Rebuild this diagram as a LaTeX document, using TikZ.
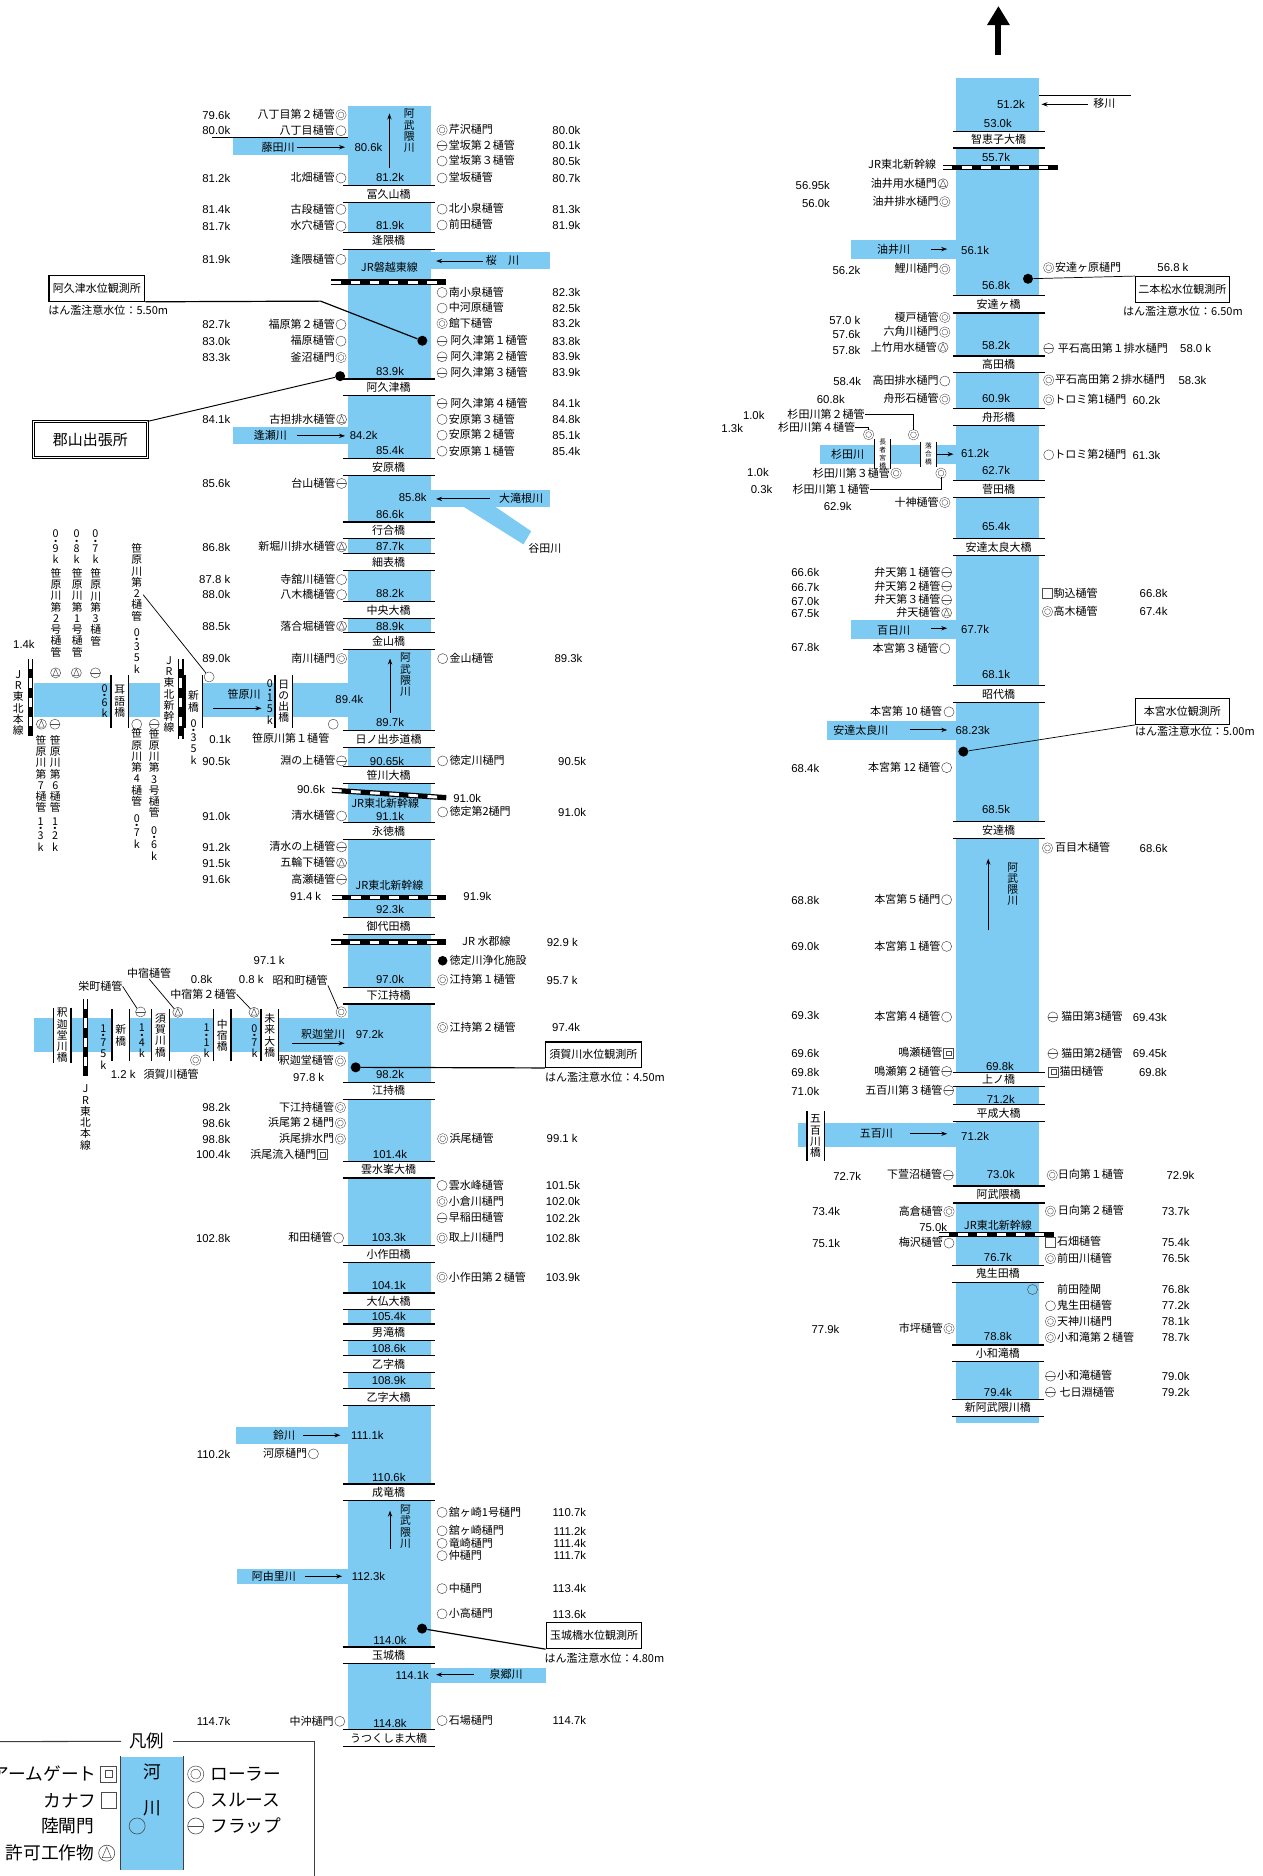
\documentclass[tikz,border=0pt]{standalone}
\usepackage{fontspec}
\setmainfont{Noto Sans CJK JP}
\newfontfamily\kmfont{Liberation Sans}
\usetikzlibrary{arrows.meta,calc}
\definecolor{rivercol}{RGB}{125,203,243}
\newcommand{\namefont}{\fontsize{9.2}{11}\selectfont}
\newcommand{\vertfont}{\fontsize{9}{9.4}\selectfont\lineskiplimit=-20pt}
\newcommand{\tinyfont}{\fontsize{5.6}{6.6}\selectfont\lineskiplimit=-20pt}
\newcommand{\kdot}{\\[-3.4pt]・\\[-3.4pt]}
\tikzset{
  river/.style={fill=rivercol},
  gatebase/.style={circle,draw=black!70,line width=.4pt,minimum size=8.4pt,inner sep=0pt},
  suru/.style={gatebase},
  roller/.style={gatebase,double=white,double distance=1.3pt,minimum size=6.8pt},
  flap/.style={gatebase,path picture={\draw[black!70,line width=.4pt] (path picture bounding box.west) -- (path picture bounding box.east);}},
  kyoka/.style={gatebase,path picture={\draw[black!70,line width=.4pt] ($(path picture bounding box.north)!.12!(path picture bounding box.south)$) -- ($(path picture bounding box.south west)!.22!(path picture bounding box.north east)$) -- ($(path picture bounding box.south east)!.22!(path picture bounding box.north west)$) -- cycle;}},
  kanafu/.style={gatebase,rectangle},
  armgate/.style={gatebase,rectangle,path picture={\draw[black!70,line width=.4pt] ($(path picture bounding box.south west)!.27!(path picture bounding box.north east)$) rectangle ($(path picture bounding box.south west)!.73!(path picture bounding box.north east)$);}},
  lbl/.style={inner sep=0pt,font=\namefont,text height=7.4pt,text depth=1pt},
  kmlbl/.style={inner sep=0pt,font=\kmfont\fontsize{9.5}{11}\selectfont,text height=7pt,text depth=0pt},
  vert/.style={inner sep=0pt,align=center,font=\vertfont},
  bridge/.style={fill=white,inner sep=0pt,minimum width=76.6pt,font=\namefont},
  vbridge/.style={fill=white,inner sep=0pt,align=center,font=\vertfont},
  bline/.style={line width=1pt},
  railbed/.style={line width=4.4pt,black},
  railtie/.style={line width=2.4pt,white,dash pattern=on 8pt off 8pt},
  flow/.style={-{Stealth[length=5pt,width=3.6pt]},line width=.8pt},
  lead/.style={line width=.6pt},
  obsbox/.style={draw,line width=1pt,inner sep=0pt,font=\namefont},
  gauge/.style={line width=1pt},
  dot/.style={circle,fill=black,inner sep=0pt,minimum size=8.4pt},
  legendtxt/.style={inner sep=0pt,font=\fontsize{14.8}{17}\selectfont}
}
\begin{document}
\begin{tikzpicture}[x=1pt,y=-1pt,>=Stealth]
    \useasboundingbox (0,0) rectangle (1055.6,1568);

    \foreach \xa/\ya/\xb/\yb in {291.2/88.6/360.1/1446, 799.3/65.2/868.7/1189.6,
        194.9/115.7/291.2/129.6, 195/357/291.2/371.2, 360.1/211/460/224.9, 360.1/409.7/460/424,
        28.3/571/133.6/599.2, 151/571/291.2/599.2, 28.4/851.1/291.2/879.6,
        197.3/1192.3/291.2/1206.5, 198.3/1311/291.2/1323.6, 360.1/1393.8/456.5/1406.4,
        711.1/200.7/799.3/216.5, 685.2/372.1/799.3/388, 711.1/518.4/799.3/534.3,
        691/602.9/799.3/618.8, 666.6/938.2/799.3/959}
        \fill[river] (\xa,\ya) rectangle (\xb,\yb);
    \fill[river] (387.5,423.6) -- (414,423.6) -- (444,444) -- (437.5,455) -- cycle;

    \foreach \x/\yt/\yb/\txt [count=\i] in {
        324.9/155.3/168.9/冨久山橋, 324.9/194.3/208.2/逢隈橋, 324.9/316.9/330.5/阿久津橋,
        324.9/383.5/397.2/安原橋, 324.9/436.5/450/行合橋, 324.9/462.7/476.6/細表橋,
        324.9/503/516.8/中央大橋, 324.9/529/542.6/金山橋, 324.9/611/624.6/日ノ出歩道橋,
        324.9/640.8/654.7/笹川大橋, 324.9/687.9/701.5/永徳橋, 324.9/767/780.7/御代田橋,
        324.9/825.3/838.9/下江持橋, 324.9/904.7/918.6/江持橋, 324.9/970.7/984.4/雲水峯大橋,
        324.9/1041.3/1055/小作田橋, 324.9/1080.9/1094.5/大仏大橋, 324.9/1106.8/1120.1/男滝橋,
        324.9/1133/1146.9/乙字橋, 324.9/1160.8/1174.8/乙字大橋, 324.9/1240.5/1254.2/成竜橋,
        324.9/1376.8/1390.5/玉城橋, 324.9/1445.9/1459.8/うつくしま大橋,
        834.7/109.8/123.5/智恵子大橋, 834.7/247.5/261.4/安達ヶ橋, 834.7/297.7/311.3/高田橋,
        834.7/341.4/355.4/舟形橋, 834.7/401.6/415.6/菅田橋, 834.7/450.1/464/安達太良大橋,
        834.7/573/587/昭代橋, 834.7/687/700.7/安達橋, 834.7/896.6/907.8/上ノ橋,
        834.7/923.4/937/平成大橋, 834.7/991.4/1005.3/阿武隈橋, 834/1057.7/1071.4/鬼生田橋,
        834/1124.3/1138/小和滝橋, 834/1169.7/1183.4/新阿武隈川橋} {
        \pgfmathsetmacro\ym{(\yt+\yb)/2}
        \pgfmathsetmacro\hh{\yb-\yt}
        \node[bridge,minimum height=\hh pt] (b\i) at (\x,\ym) {\txt};
        \draw[bline] (b\i.north west) -- (b\i.north east);
        \draw[bline] (b\i.south west) -- (b\i.south east);
    }

    \foreach \x/\vw/\yt/\yb/\txt [count=\i] in {
        100.1/14.3/564.4/608/耳\\語\\橋, 161.8/13.9/564.4/608/新\\橋, 237.1/14.2/564.4/608/日\\の\\出\\橋,
        52.1/14.2/843.9/886.8/釈\\迦\\堂\\川\\橋, 100.9/14.2/843.9/886.8/新\\橋, 134.1/14.2/843.9/886.8/須\\賀\\川\\橋,
        185.8/14.2/843.9/886.8/中\\宿\\橋, 225.4/14.2/843.9/886.8/未\\来\\大\\橋,
        681.7/13.9/928.7/970.5/五\\百\\川\\橋} {
        \pgfmathsetmacro\ym{(\yt+\yb)/2}
        \pgfmathsetmacro\hh{\yb-\yt}
        \node[vbridge,minimum width=\vw pt,minimum height=\hh pt] (vb\i) at (\x,\ym) {\txt};
        \draw[bline] (vb\i.north west) -- (vb\i.south west);
        \draw[bline] (vb\i.north east) -- (vb\i.south east);
    }
    \foreach \x/\txt [count=\i] in {737.7/長\\者\\宮\\橋, 776.1/落\\合\\橋} {
        \node[vbridge,font=\tinyfont,minimum width=12.5pt,minimum height=20.6pt] (sb\i) at (\x,379.6) {\txt};
        \draw[bline] (sb\i.north west) -- (sb\i.south west);
        \draw[bline] (sb\i.north east) -- (sb\i.south east);
    }

    \foreach \xa/\ya/\xb/\yb [count=\i] in {277/235.8/372.5/235.8, 277.5/660.5/373/666.7, 277.5/750.3/373/750.3,
        276.9/787.4/373/787.4, 788/140.2/884/140.2, 785/1032/881/1032,
        25.3/551/25.3/615.4, 151.2/551/151.2/618, 71.5/835.2/71.5/899.6} {
        \coordinate (ra\i) at (\xa,\ya);
        \coordinate (rb\i) at (\xb,\yb);
        \draw[railbed] (ra\i) -- (rb\i);
        \draw[railtie] (ra\i) -- (rb\i);
    }

    \foreach \sx/\y/\km/\txt/\kind [count=\i] in {
        285/96/79.6k/八丁目第２樋管/roller, 285/109.3/80.0k/八丁目樋管/suru, 285/148.8/81.2k/北畑樋管/suru,
        285/175/81.4k/古段樋管/suru, 285/189/81.7k/水穴樋管/suru, 285/216.8/81.9k/逢隈樋管/suru,
        285/271.2/82.7k/福原第２樋管/suru, 285/285.1/83.0k/福原樋管/suru, 285/298.8/83.3k/釜沼樋門/roller,
        285.5/350.6/84.1k/古担排水樋管/kyoka, 285.5/404.1/85.6k/台山樋管/flap,
        285.5/457.1/86.8k/新堀川排水樋管/kyoka, 285.5/484.4/87.8 k/寺舘川樋管/suru, 285.5/497/88.0k/八木橋樋管/suru,
        285.5/523.4/88.5k/落合堀樋管/kyoka, 285.5/550.5/89.0k/南川樋門/roller, 285.5/636/90.5k/淵の上樋管/flap,
        285.5/682/91.0k/清水樋管/suru, 285.5/707.9/91.2k/清水の上樋管/flap, 285.5/721.3/91.5k/五輪下樋管/kyoka,
        285.5/735/91.6k/高瀬樋管/flap, 284.5/925.6/98.2k/下江持樋管/roller, 284.5/938.7/98.6k/浜尾第２樋門/roller,
        284.5/952/98.8k/浜尾排水門/roller, 269.6/964.9/100.4k/浜尾流入樋門/armgate, 283/1034.8/102.8k/和田樋管/suru,
        262/1215.2/110.2k/河原樋門/suru, 284/1438.7/114.7k/中沖樋門/suru} {
        \node[\kind] (lg\i) at (\sx,\y) {};
        \node[lbl,anchor=east] (ln\i) at ($(lg\i.center)+(-5pt,0pt)$) {\txt};
        \node[kmlbl,anchor=east] (lk\i) at (192.6,\y) {\km};
    }

    \foreach \sx/\y/\kx/\ky/\km/\txt/\kind [count=\i] in {
        788.2/153.6/693.8/155/56.95k/油井用水樋門/kyoka, 789.7/168.6/693.8/170.3/56.0k/油井排水樋門/roller,
        789.7/224.9/719.3/226/56.2k/鯉川樋門/roller, 789.7/265.3/719.3/267.5/57.0 k/榎戸樋管/roller,
        789.7/277.6/719.3/279.5/57.6k/六角川樋門/roller, 788.2/290.4/719.3/292.6/57.8k/上竹用水樋管/kyoka,
        789.7/318.5/719.9/318.5/58.4k/高田排水樋門/suru, 789.7/333.6/706.2/333.6/60.8k/舟形石樋管/roller,
        789.7/420/712/423.6/62.9k/十神樋管/roller, 749/395.5/642.7/395/1.0k/杉田川第３樋管/roller,
        791.2/478.3/684.9/478.3/66.6k/弁天第１樋管/flap, 791.2/490/684.9/490.8/66.7k/弁天第２樋管/flap,
        791.2/501.4/684.9/502.2/67.0k/弁天第３樋管/flap, 791.2/512.3/684.9/512.8/67.5k/弁天樋管/kyoka,
        789.7/542.1/684.9/540.7/67.8k/本宮第３樋管/suru, 791.2/641.6/684.9/642.2/68.4k/本宮第 12 樋管/suru,
        791.2/752/684.9/752.8/68.8k/本宮第５樋門/suru, 791.2/791/684.9/791/69.0k/本宮第１樋管/suru,
        791.2/850/684.9/849/69.3k/本宮第４樋管/suru, 792.9/880.2/684.9/880.7/69.6k/鳴瀬樋管/armgate,
        791.2/895.5/684.9/896/69.8k/鳴瀬第２樋管/flap, 792.9/911.4/684.9/912.2/71.0k/五百川第３樋管/flap,
        792.6/982.2/719.9/983.3/72.7k/下萱沼樋管/flap, 793.2/1012.6/702.4/1012.6/73.4k/高倉樋管/roller,
        793.2/1039/702.4/1039.3/75.1k/梅沢樋管/suru, 793.2/1110.4/701.8/1110.7/77.9k/市坪樋管/roller} {
        \node[\kind] (mg\i) at (\sx,\y) {};
        \node[lbl,anchor=east] (mn\i) at ($(mg\i.center)+(-5pt,0pt)$) {\txt};
        \node[kmlbl,anchor=east] (mk\i) at (\kx,\ky) {\km};
    }

    \foreach \sx/\y/\tx/\txt/\kind/\kx/\km [count=\i] in {
        369.5/108.7/375/芹沢樋門/roller/485.2/80.0k, 369.5/121.8/375/堂坂第２樋管/flap/485.2/80.1k,
        369.5/134.6/375/堂坂第３樋管/suru/485.2/80.5k, 369.5/148.8/375/堂坂樋管/suru/485.2/80.7k,
        369.5/174.8/375/北小泉樋管/suru/485.2/81.3k, 369.5/188.1/375/前田樋管/suru/485.2/81.9k,
        369.5/244.4/375/南小泉樋管/suru/485.2/82.3k, 369.5/257.5/375/中河原樋管/suru/485.2/82.5k,
        369.5/270.4/375/館下樋管/roller/485.2/83.2k, 369.5/285.1/376.5/阿久津第１樋管/flap/485.2/83.8k,
        369.5/298.2/376.5/阿久津第２樋管/flap/485.2/83.9k, 369.5/311.6/376.5/阿久津第３樋管/flap/485.2/83.9k,
        369.5/337.2/376.5/阿久津第４樋管/flap/485.2/84.1k, 369.5/350.6/375/安原第３樋管/suru/485.2/84.8k,
        369.5/363.7/375/安原第２樋管/suru/485.2/85.1k, 369.5/377.1/375/安原第１樋管/suru/485.2/85.4k,
        370/550.5/375.5/金山樋管/suru/487/89.3k, 370/636/375.5/徳定川樋門/suru/490/90.5k,
        370/678.7/375.5/徳定第2樋門/suru/490/91.0k, 370/819/375.5/江持第１樋管/roller/483/95.7 k,
        370/858.7/375.5/江持第２樋管/roller/485/97.4k, 370/951.8/375.5/浜尾樋管/roller/483/99.1 k,
        369.5/990.8/375/雲水峰樋管/suru/485/101.5k, 369.5/1004.2/375/小倉川樋門/roller/485/102.0k,
        369.5/1017.9/375/早稲田樋管/flap/485/102.2k, 369.5/1034.8/375/取上川樋門/roller/485/102.8k,
        369.5/1067.5/375/小作田第２樋管/roller/485/103.9k, 369.5/1264/375/舘ヶ崎1号樋門/suru/490/110.7k,
        369.5/1279.5/375/舘ヶ崎樋門/suru/490/111.2k, 369.5/1289.9/375/竜崎樋門/suru/490/111.4k,
        369.5/1300.2/375/仲樋門/suru/490/111.7k, 369.5/1327.8/375/中樋門/suru/490/113.4k,
        369.5/1348.9/375/小高樋門/suru/490/113.6k, 369.5/1438.1/375/石場樋門/suru/490/114.7k,
        876.5/223.8/881.7/安達ヶ原樋門/roller/993.5/56.8 k, 876.5/291.2/884/平石高田第１排水樋門/flap/1012.5/58.0 k,
        876.5/317.7/881.7/平石高田第２排水樋門/roller/1008.5/58.3k, 876.5/334.2/881/トロミ第1樋門/roller/970/60.2k,
        876.5/380.2/881/トロミ第2樋門/suru/970/61.3k, 875.5/495.8/880.5/駒込樋管/kanafu/976/66.8k,
        875.5/511.2/880.5/高木樋管/roller/976/67.4k, 875.5/708.8/881.7/百目木樋管/roller/976/68.6k,
        880/850/887/猫田第3樋管/flap/975.5/69.43k, 880/880.7/887/猫田第2樋管/flap/975.5/69.45k,
        880.5/896/885.5/猫田樋管/armgate/975.5/69.8k, 879.5/982.2/884/日向第１樋管/roller/998.5/72.9k,
        878/1012.3/884/日向第２樋管/roller/994.5/73.7k, 878/1038.2/883.4/石畑樋管/kanafu/994.5/75.4k,
        878/1051.9/883.4/前田川樋管/roller/994.5/76.5k, 878/1091.4/883.4/鬼生田樋管/suru/994.5/77.2k,
        878/1104.5/883.4/天神川樋門/roller/994.5/78.1k, 878/1117.9/883.4/小和滝第２樋管/roller/994.5/78.7k,
        878/1150.2/883.4/小和滝樋管/flap/994.5/79.0k, 878/1163.6/885.5/七日淵樋管/flap/994.5/79.2k} {
        \node[\kind] (rg\i) at (\sx,\y) {};
        \node[lbl,anchor=west] (rn\i) at (\tx,\y) {\txt};
        \node[kmlbl,anchor=east] (rk\i) at (\kx,\y) {\km};
    }

    \foreach \kind/\x/\y [count=\i] in {kyoka/46.5/562.4, kyoka/63.8/562.4, flap/79.8/562.4, kyoka/34.6/605.3,
        flap/45.9/605.3, suru/114.3/605.3, flap/128.9/605.3, suru/278.5/605.3, roller/163.5/886,
        suru/863/1077.8}
        \node[\kind] (fg\i) at (\x,\y) {};

    \foreach \x/\y/\km [count=\i] in {
        326/148.6/81.2k, 308/123.2/80.6k, 326/188.4/81.9k, 326/310.2/83.9k, 304/363.5/84.2k,
        326/376.5/85.4k, 345/415.8/85.8k, 326/429.8/86.6k, 326/456.8/87.7k, 326/496.1/88.2k,
        326/523.4/88.9k, 292/584.5/89.4k, 326/604/89.7k, 323.5/636/90.65k, 326/682/91.1k, 326/760/92.3k,
        326/818.8/97.0k, 309/864.6/97.2k, 326/897.7/98.2k, 326/964.4/101.4k, 325/1034/103.3k,
        325/1073.9/104.1k, 325/1100.6/105.4k, 325/1127/108.6k, 325/1153.8/108.9k, 307/1199.6/111.1k,
        325/1234.7/110.6k, 326/1370.7/114.0k, 308/1317.5/112.3k, 344.5/1400/114.1k, 326/1440/114.8k,
        845/87/51.2k, 834/103.1/53.0k, 832.5/131.8/55.7k, 815/209.3/56.1k, 832.5/238.3/56.8k, 832.5/288.7/58.2k,
        832.5/332.5/60.9k, 815/379.3/61.2k, 832.5/393/62.7k, 832.5/439.8/65.4k, 815/526.2/67.7k, 832.5/563.8/68.1k,
        813/610.4/68.23k, 832.5/676.7/68.5k, 835.8/891.3/69.8k, 836.5/918.4/71.2k, 815/949.6/71.2k,
        836.5/981.6/73.0k, 834/1050.8/76.7k, 834/1117.1/78.8k, 834/1163.6/79.4k,
        20/538.5/1.4k, 184/617.9/0.1k, 260/660/90.6k, 390.5/667/91.0k, 255.5/749.2/91.4 k, 399/749/91.9k,
        225/802.9/97.1 k, 168.5/818.5/0.8k, 210/818.8/0.8 k, 103/898.2/1.2 k, 258/900.7/97.8 k,
        780/1026/75.0k, 470/787.4/92.9 k, 630/347/1.0k, 612/357.6/1.3k, 636.5/409.2/0.3k}
        \node[kmlbl] (k\i) at (\x,\y) {\km};
    \node[kmlbl,anchor=east] (k969) at (994.5,1077.8) {76.8k};

    \foreach \x/\y/\txt [count=\i] in {
        232.5/123.2/藤田川, 226/364/逢瀬川, 420/218/桜　川, 435.5/417/大滝根川, 455.5/458.5/谷田川,
        325.5/223.8/JR磐越東線, 322/672/JR東北新幹線, 325.5/740/JR東北新幹線, 406.5/787.4/JR 水郡線,
        204/580.3/笹原川, 243/617.6/笹原川第１樋管, 143/898.2/須賀川樋管, 270/864.5/釈迦堂川,
        237.5/1199.6/鈴川, 229/1317.5/阿由里川, 423/1399.7/泉郷川, 923/86.4/移川,
        754/137.4/JR東北新幹線, 747/208.7/油井川, 708.5/380.4/杉田川, 747/526.8/百日川,
        719.5/610.7/安達太良川, 732.5/947.4/五百川, 834/1024.3/JR東北新幹線} 
        \node[lbl] (t\i) at (\x,\y) {\txt};
    \node[lbl,anchor=west] (maedarik) at (883.4,1077.8) {前田陸閘};
    \node[dot,minimum size=8pt] (tokusadag) at (370,803) {};
    \node[lbl,anchor=west] (tokusada) at (375.5,803) {徳定川浄化施設};
    \node[roller] (shakag) at (284.5,886.8) {};
    \node[lbl,anchor=east] (shaka) at (279.2,886.8) {釈迦堂樋管};
    \node[suru] (hongu10g) at (793.2,595) {};
    \node[lbl,anchor=east] (hongu10) at (787.7,595) {本宮第 10 樋管};

    \foreach \x/\y/\txt [count=\i] in {
        46.5/457/0\kdot 9\\k, 46.9/512/笹\\原\\川\\第\\2\\号\\樋\\管, 64.1/457/0\kdot 8\\k, 64.5/512/笹\\原\\川\\第\\1\\号\\樋\\管,
        79.8/457/0\kdot 7\\k, 80/507.5/笹\\原\\川\\第\\3\\樋\\管, 114.3/544/0\kdot 3\\5\\k,
        15.3/587.5/J\\R\\東\\北\\本\\線, 87.4/586/0\kdot 6\\k, 34.2/647/笹\\原\\川\\第\\7\\樋\\管, 34/697.5/1\kdot 3\\k,
        46.2/647/笹\\原\\川\\第\\6\\樋\\管, 46/697.5/1\kdot 2\\k, 114.3/641.5/笹\\原\\川\\第\\4\\樋\\管, 114.3/695/0\kdot 7\\k,
        128.9/646.5/笹\\原\\川\\第\\3\\号\\樋\\管, 128.9/705/0\kdot 6\\k, 141.2/580.5/J\\R\\東\\北\\新\\幹\\線,
        161.8/620/0\kdot 3\\5\\k, 225.6/586.5/0\kdot 1\\5\\k, 339/564/阿\\武\\隈\\川, 86.4/875/1\kdot 7\\5\\k,
        118.6/870/1\kdot 4\\k, 172.7/870/1\kdot 1\\k, 212.7/870/0\kdot 7\\k, 71.5/934/J\\R\\東\\北\\本\\線,
        342/109.5/阿\\武\\隈\\川, 339/1276/阿\\武\\隈\\川, 846.5/739/阿\\武\\隈\\川}
        \node[vert] (v\i) at (\x,\y) {\txt};

    \foreach \xa/\xb/\y [count=\i] in {248.5/288.4/123, 248.5/288.4/364.3, 404/364.5/218.2, 409.5/364.5/417,
        178.4/218.6/592, 243.8/288/872, 253.6/284.5/1199.6, 255/286/1317.5, 396/364.5/1399.7, 909/870.5/87.2,
        778/791.7/208.2, 783/797/379.6, 778/791.7/525.1, 760.3/791.7/610.1, 760.3/791.7/947.6} {
        \coordinate (fa\i) at (\xa,\y);
        \coordinate (fb\i) at (\xb,\y);
        \draw[flow] (fa\i) -- (fb\i);
    }
    \foreach \x/\ya/\yb [count=\i] in {325.5/140.2/94.8, 326/595.6/550.4, 326/1294.6/1262.6, 826/777.6/717.7} {
        \coordinate (ua\i) at (\x,\ya);
        \coordinate (ub\i) at (\x,\yb);
        \draw[flow] (ua\i) -- (ub\i);
    }
    \coordinate (fujistart) at (176.8,115.2);
    \coordinate (fujiend) at (291.2,115.2);
    \draw[bline] (fujistart) -- (fujiend);
    \coordinate (utsuend) at (945,79.7);
    \coordinate (utsustart) at (868.7,79.7);
    \draw[lead,line width=.8pt] (utsustart) -- (utsuend);
    \coordinate (bigtail) at (834.5,46);
    \coordinate (bighead) at (834.5,5);
    \draw[-{Triangle[length=16pt,width=18pt]},line width=5pt] (bigtail) -- (bighead);

    \node[suru] (sasa2g) at (174.8,565.8) {};
    \node[vert] (sasa2) at (114.3,486.6) {笹\\原\\川\\第\\2\\樋\\管};
    \coordinate (sasa2s) at (119.6,497);
    \draw[lead] (sasa2s) -- (sasa2g);

    \node[flap] (sakaeg) at (117.5,845.8) {};
    \node[lbl] (sakae) at (83.9,824.4) {栄町樋管};
    \draw[lead] (sakae.east) -- (sakaeg.north west);
    \node[kyoka] (nakag) at (148.6,846.1) {};
    \node[lbl] (naka) at (124.6,813.8) {中宿樋管};
    \draw[lead] (naka.south) -- (nakag.north west);
    \node[kyoka] (naka2g) at (212.3,846.1) {};
    \node[lbl] (naka2) at (169.9,831) {中宿第２樋管};
    \draw[lead] (naka2.east) -- (naka2g.north west);
    \node[roller] (showag) at (285.2,845.8) {};
    \node[lbl] (showa) at (250.9,819.3) {昭和町樋管};
    \draw[lead] (showa.south east) -- (showag.north west);

    \node[roller] (sugi2g) at (763.5,363.4) {};
    \node[lbl,anchor=east] (sugi2) at (722.8,346.2) {杉田川第２樋管};
    \draw[lead] (sugi2.east) -| (sugi2g.north);
    \node[roller] (sugi4g) at (726,363.2) {};
    \node[lbl,anchor=east] (sugi4) at (714.9,357.3) {杉田川第４樋管};
    \draw[lead] (sugi4.east) -| (sugi4g.north);
    \node[roller] (sugi1g) at (786.5,395.5) {};
    \node[lbl,anchor=east] (sugi1) at (727.1,409.2) {杉田川第１樋管};
    \draw[lead] (sugi1.east) -| (sugi1g.south);

    \node[obsbox,minimum width=80pt,minimum height=21.5pt] (akutsu) at (81,241) {阿久津水位観測所};
    \node[lbl,anchor=west,font=\namefont] (akutsuw) at (40.3,260) {はん濫注意水位：5.50m};
    \node[dot] (akutsud) at (353,284.8) {};
    \coordinate (akutsub) at (268,251.7);
    \draw[gauge] (akutsu.south east) -- (akutsub) -- (akutsud);

    \node[draw,line width=.8pt,double,double distance=1pt,inner sep=0pt,minimum width=95pt,minimum height=30pt,font=\fontsize{12.5}{14}\selectfont] (koriyama) at (75.5,367.6) {郡山出張所};
    \node[dot] (koriyamad) at (284.3,314.4) {};
    \draw[gauge,line width=.8pt] (koriyama.north east) -- (koriyamad);

    \node[obsbox,minimum width=80pt,minimum height=21.2pt] (sukagawa) at (496,881.5) {須賀川水位観測所};
    \node[lbl,anchor=west] (sukagawaw) at (455.5,900.4) {はん濫注意水位：4.50m};
    \node[dot] (sukagawad) at (297.3,892.1) {};
    \draw[gauge] (sukagawa.south west) -- (sukagawad);

    \node[obsbox,minimum width=80pt,minimum height=21.8pt] (tamaki) at (496.5,1367) {玉城橋水位観測所};
    \node[lbl,anchor=west] (tamakiw) at (455,1386) {はん濫注意水位：4.80m};
    \node[dot] (tamakid) at (352.8,1361.2) {};
    \draw[gauge] (tamakid) -- (tamaki.south west);

    \node[obsbox,minimum width=78.5pt,minimum height=21.5pt] (nihon) at (988.3,242) {二本松水位観測所};
    \node[lbl,anchor=west] (nihonw) at (938.5,260.9) {はん濫注意水位：6.50m};
    \node[dot] (nihond) at (859.2,233) {};
    \draw[lead] (nihond) -- (nihon.north west);

    \node[obsbox,minimum width=78.5pt,minimum height=21.8pt] (hongu) at (988.3,594.5) {本宮水位観測所};
    \node[lbl,anchor=west] (honguw) at (948.5,611.2) {はん濫注意水位：5.00m};
    \node[dot] (hongud) at (805.2,628.2) {};
    \draw[lead] (hongud) -- (hongu.south west);

    \node[inner sep=0pt,font=\fontsize{14.6}{16}\selectfont] (hanrei) at (122.6,1455.4) {凡例};
    \coordinate (frameleft) at (0,1455.7);
    \coordinate (framedown) at (262.8,1568);
    \draw[line width=.9pt,black!75] (frameleft) -- ([xshift=-6.5pt]hanrei.west);
    \draw[line width=.9pt,black!75] ([xshift=7.5pt]hanrei.east) -| (framedown);
    \node[river,inner sep=0pt,minimum width=51.5pt,minimum height=94.5pt] (legriver) at (126.95,1515.5) {};
    \draw[line width=.7pt,black!75] (legriver.north west) -- (legriver.south west);
    \draw[line width=.7pt,black!75] (legriver.north east) -- (legriver.south east);
    \node[legendtxt] (legka) at (127.6,1481.3) {河};
    \node[legendtxt] (legsen) at (127.6,1511.4) {川};
    \node[suru,minimum size=13.4pt,line width=.5pt] (legland) at (114.6,1526.2) {};
    \node[roller,minimum size=10.8pt,double distance=2.1pt,line width=.5pt] (legroller) at (163.6,1482.8) {};
    \node[suru,minimum size=13.4pt,line width=.5pt] (legsuru) at (163.6,1504.5) {};
    \node[flap,minimum size=13.4pt,line width=.5pt] (legflap) at (163.6,1526.2) {};
    \node[legendtxt,anchor=west] (legrollert) at (175.6,1482.8) {ローラー};
    \node[legendtxt,anchor=west] (legsurut) at (175.6,1504.5) {スルース};
    \node[legendtxt,anchor=west] (legflapt) at (175.6,1526.2) {フラップ};
    \node[armgate,minimum size=13pt,line width=.5pt] (legarm) at (90.6,1482.8) {};
    \node[kanafu,minimum size=13pt,line width=.5pt] (legkana) at (91.1,1504.8) {};
    \node[kyoka,minimum size=13.4pt,line width=.5pt] (legkyoka) at (89.2,1548.9) {};
    \node[legendtxt,anchor=east] (legarmt) at (80.8,1482.8) {アームゲート};
    \node[legendtxt,anchor=east] (legkanat) at (80.8,1504.8) {カナフ};
    \node[legendtxt,anchor=east] (legriku) at (78.9,1526.2) {陸閘門};
    \node[legendtxt,anchor=east] (legkyokat) at (78.9,1548.9) {許可工作物};
\end{tikzpicture}
\end{document}
